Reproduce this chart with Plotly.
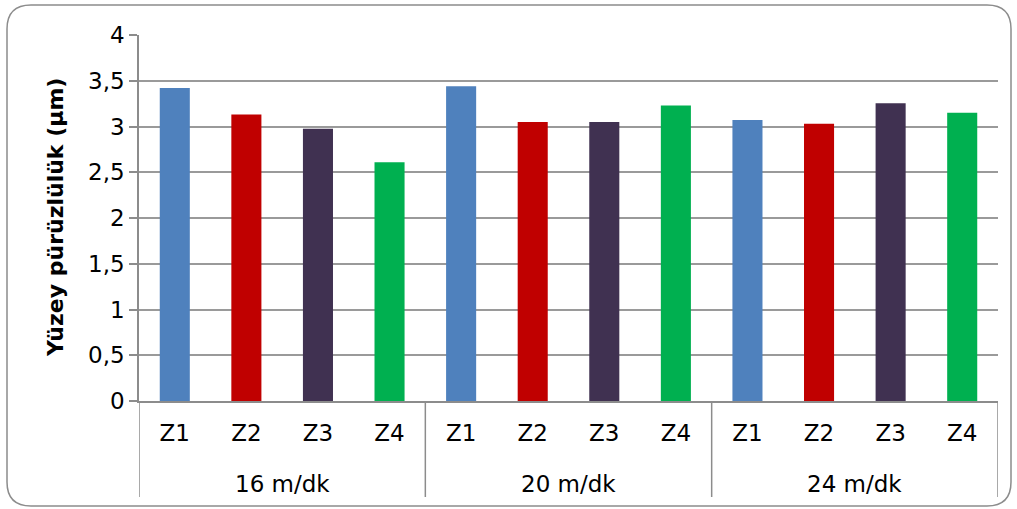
import plotly.graph_objects as go

groups = ["16 m/dk", "20 m/dk", "24 m/dk"]
subs = ["Z1", "Z2", "Z3", "Z4"]
values_16 = [3.42, 3.13, 2.975, 2.61]
values_20 = [3.44, 3.05, 3.05, 3.23]
values_24 = [3.07, 3.03, 3.255, 3.15]
sub_colors = ["#4F81BD", "#C00000", "#403151", "#00B050"]
y_tickvals = [0, 0.5, 1, 1.5, 2, 2.5, 3, 3.5, 4]
y_ticktext = ["0", "0,5", "1", "1,5", "2", "2,5", "3", "3,5", "4"]
y_title = "Yüzey pürüzlülük (µm)"

xs, x_labels, ys, cols = [], [], [], []
for gi, vals in enumerate([values_16, values_20, values_24]):
    for si, (s, v, c) in enumerate(zip(subs, vals, sub_colors)):
        xs.append(gi * len(subs) + si)
        x_labels.append(s)
        ys.append(v)
        cols.append(c)

FONT = "DejaVu Sans, Verdana, sans-serif"
fig = go.Figure(go.Bar(x=xs, y=ys, width=0.42, marker=dict(color=cols, line=dict(width=0)),
                       hovertext=[f"{groups[i // len(subs)]} {s}" for i, s in enumerate(x_labels)],
                       hoverinfo="text+y"))

L, R, T, B = 139, 19, 35, 108
W, H = 1017, 509
pw, ph = W - L - R, H - T - B

def px(x):
    return (x - L) / pw

def py(y):
    return (H - B - y) / ph

# rounded chart border
x0, x1, y0, y1, r = 7, 1011, 5, 506, 24
path = (f"M {px(x0 + r)},{py(y0)} L {px(x1 - r)},{py(y0)} "
        f"Q {px(x1)},{py(y0)} {px(x1)},{py(y0 + r)} L {px(x1)},{py(y1 - r)} "
        f"Q {px(x1)},{py(y1)} {px(x1 - r)},{py(y1)} L {px(x0 + r)},{py(y1)} "
        f"Q {px(x0)},{py(y1)} {px(x0)},{py(y1 - r)} L {px(x0)},{py(y0 + r)} "
        f"Q {px(x0)},{py(y0)} {px(x0 + r)},{py(y0)} Z")

shapes = [dict(type="path", path=path, xref="paper", yref="paper",
               line=dict(color="#8C8C8C", width=1.5), layer="below")]
n = len(subs)
for gi in range(len(groups) + 1):
    xd = gi * n - 0.5
    shapes.append(dict(type="line", xref="x", yref="paper", x0=xd, x1=xd,
                       y0=0, y1=py(497), line=dict(color="#8C8C8C", width=1.5)))

annotations = [dict(text="<b>" + y_title + "</b>", xref="paper", yref="paper",
                    x=px(55), y=0.5, xanchor="center", yanchor="middle",
                    textangle=-90, showarrow=False,
                    font=dict(family=FONT, size=22, color="black"))]
for gi, g in enumerate(groups):
    annotations.append(dict(text=g, xref="x", yref="paper", x=gi * n + (n - 1) / 2,
                            y=py(484), xanchor="center", yanchor="middle",
                            showarrow=False, font=dict(family=FONT, size=23, color="black")))

fig.update_layout(
    width=W, height=H,
    margin=dict(l=L, r=R, t=T, b=B, pad=0),
    paper_bgcolor="white", plot_bgcolor="white",
    showlegend=False,
    font=dict(family=FONT, size=23, color="black"),
    shapes=shapes,
    annotations=annotations,
)
fig.update_yaxes(range=[0, 4], tickvals=y_tickvals, ticktext=y_ticktext,
                 showgrid=True, gridcolor="#9A9A9A", gridwidth=1.5,
                 showline=True, linecolor="#8C8C8C", linewidth=1.5,
                 ticks="outside", ticklen=8, tickcolor="#8C8C8C", tickwidth=1.5,
                 tickfont=dict(size=23), zeroline=False)
fig.update_xaxes(range=[-0.5, len(xs) - 0.5], tickvals=xs, ticktext=x_labels,
                 showline=True, linecolor="#8C8C8C", linewidth=1.5, showgrid=False,
                 zeroline=False, ticks="outside", ticklen=11, tickcolor="rgba(0,0,0,0)",
                 tickfont=dict(size=23))

fig.write_html("out.html", config={"displayModeBar": False},
               post_script="document.body.style.margin='0';")
